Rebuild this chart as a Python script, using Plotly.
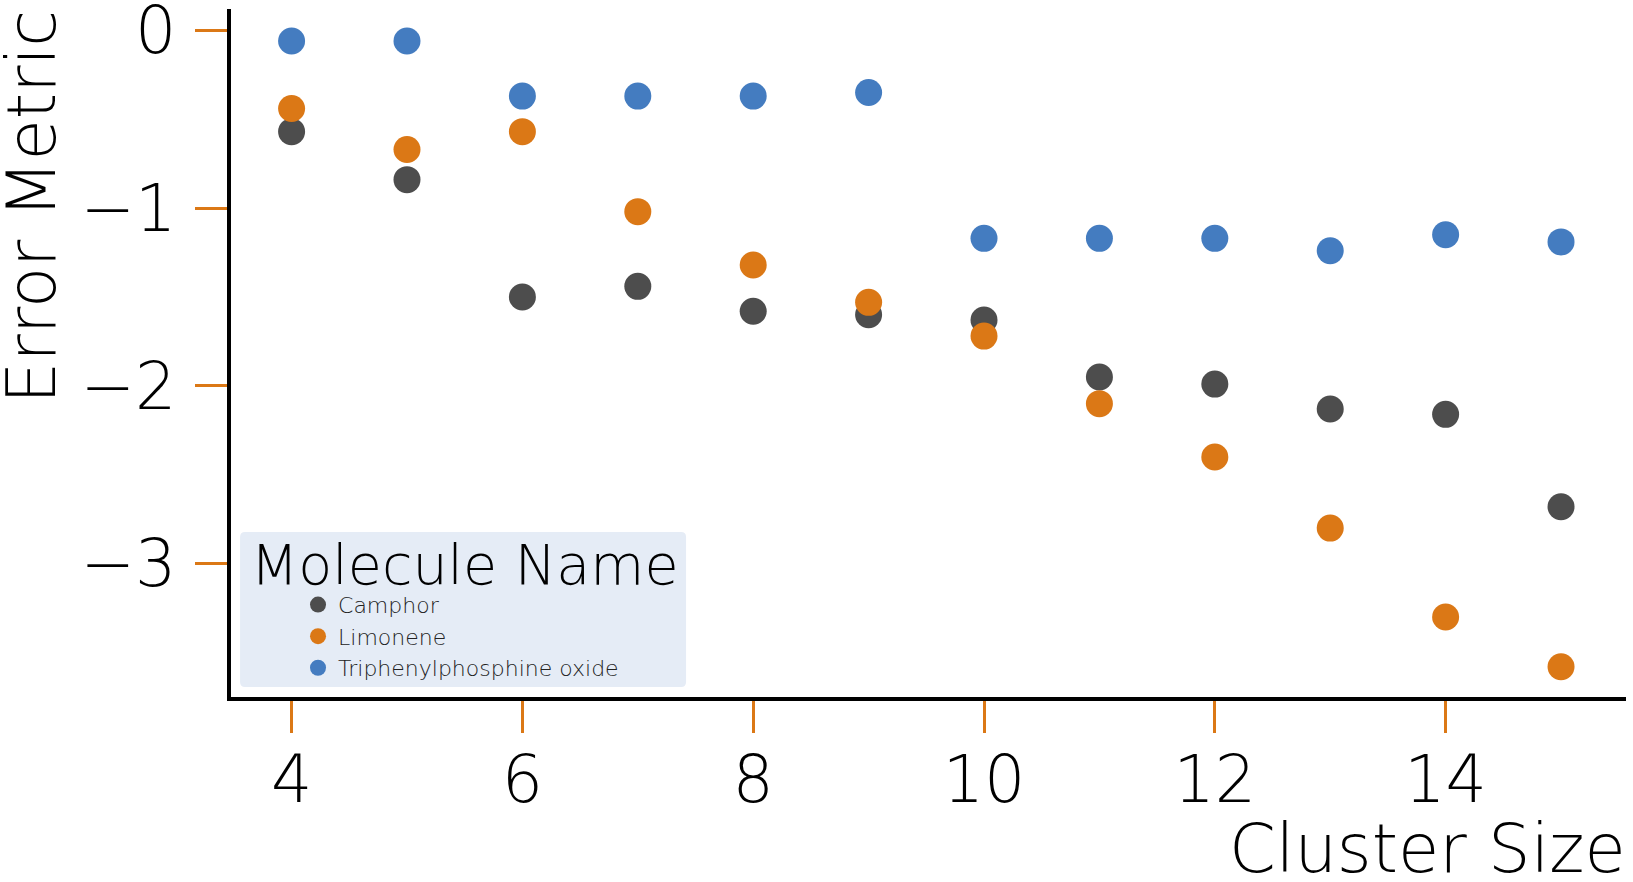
import plotly.graph_objects as go

# Cluster sizes and error metric per molecule
cluster_size = [4, 5, 6, 7, 8, 9, 10, 11, 12, 13, 14, 15]
camphor = [-0.57, -0.84, -1.50, -1.44, -1.58, -1.60, -1.63, -1.95, -1.99, -2.13, -2.16, -2.68]
limonene = [-0.44, -0.67, -0.57, -1.02, -1.32, -1.53, -1.72, -2.10, -2.40, -2.80, -3.30, -3.58]
triphenyl = [-0.06, -0.06, -0.37, -0.37, -0.37, -0.35, -1.17, -1.17, -1.17, -1.24, -1.15, -1.19]

names = ['Camphor', 'Limonene', 'Triphenylphosphine oxide']
colors = ['#4d4d4d', '#db7816', '#447cc0']

FONT = 'DejaVu Sans ExtraLight, DejaVu Sans'

fig = go.Figure()
for name, vals, col in zip(names, [camphor, limonene, triphenyl], colors):
    fig.add_trace(go.Scatter(x=cluster_size, y=vals, mode='markers', name=name,
                             marker=dict(size=27, color=col)))

axis_common = dict(showgrid=False, zeroline=False, showline=True, linecolor='black',
                   linewidth=3.5, ticks='outside', ticklen=32, tickwidth=3,
                   tickcolor='#db7816', automargin=False, ticklabeloverflow='allow',
                   tickfont=dict(family=FONT, size=65, color='black', weight=200))

# rounded light-blue box behind the legend (paper coords)
bx0, bx1, by0, by1 = 0.0065, 0.3262, 0.0145, 0.2398
rx, ry = 5 / 1395, 5 / 688
box_path = (f"M{bx0 + rx},{by0} L{bx1 - rx},{by0} Q{bx1},{by0} {bx1},{by0 + ry} "
            f"L{bx1},{by1 - ry} Q{bx1},{by1} {bx1 - rx},{by1} "
            f"L{bx0 + rx},{by1} Q{bx0},{by1} {bx0},{by1 - ry} "
            f"L{bx0},{by0 + ry} Q{bx0},{by0} {bx0 + rx},{by0} Z")

fig.update_layout(
    width=1633, height=882,
    margin=dict(l=231, r=7, t=9, b=185),
    plot_bgcolor='white', paper_bgcolor='white',
    font=dict(family=FONT, weight=200),
    xaxis=dict(range=[3.475, 15.563], tickvals=[4, 6, 8, 10, 12, 14],
               ticklabelstandoff=-9, **axis_common),
    yaxis=dict(range=[-3.75, 0.12], tickvals=[0, -1, -2, -3],
               ticklabelstandoff=6, **axis_common),
    legend=dict(x=0.0122, y=0.0122, xanchor='left', yanchor='bottom',
                bgcolor='rgba(0,0,0,0)', borderwidth=0, indentation=50,
                title=dict(text='Molecule Name', side='top center',
                           font=dict(family=FONT, size=55.5, color='black', weight=200)),
                font=dict(family=FONT, size=22, color='#222', weight=200)),
    shapes=[dict(type='path', xref='paper', yref='paper', path=box_path,
                 fillcolor='#e5ecf6', line=dict(width=0), layer='below')],
    annotations=[
        dict(text='Cluster Size', xref='paper', yref='paper', x=1.0, y=-0.221,
             xanchor='right', yanchor='middle', xshift=2, showarrow=False,
             font=dict(family=FONT, size=67, color='black', weight=200)),
        dict(text='Error Metric', xref='paper', yref='paper', x=-0.1427, y=0.712,
             xanchor='center', yanchor='middle', textangle=-90, showarrow=False,
             font=dict(family=FONT, size=67, color='black', weight=200)),
    ],
)

# page body has a default 8px margin; remove it so the figure sits at the corner
fig.write_html("out.html", config={'displayModeBar': False},
               post_script="document.body.style.margin='0';")
